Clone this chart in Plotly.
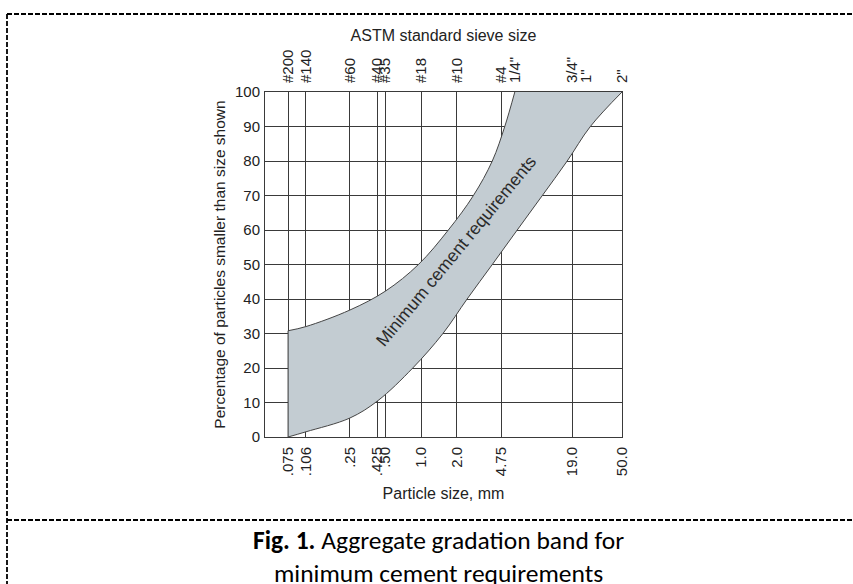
import plotly.graph_objects as go
import math

# ---------------- data ----------------
sieve_mm = [0.075, 0.106, 0.25, 0.425, 0.50, 1.0, 2.0, 4.75, 19.0, 50.0]
bottom_labels = [".075", ".106", ".25", ".425", ".50", "1.0", "2.0", "4.75", "19.0", "50.0"]

astm_mm = [0.075, 0.106, 0.25, 0.425, 0.50, 1.0, 2.0, 4.75, 6.3, 19.0, 25.0, 50.0]
astm_labels = ["#200", "#140", "#60", "#40", "#35", "#18", "#10", "#4", "1/4\"", "3/4\"", "1\"", "2\""]

# band boundaries (percent passing)
upper_mm = [0.075, 0.106, 0.25, 0.5, 0.95, 1.7, 2.77, 4.0, 5.1, 6.2]
upper_pct = [30.8, 32.0, 36.8, 42.3, 50.0, 60.0, 70.0, 80.0, 90.0, 100.0]
lower_mm = [0.075, 0.106, 0.25, 0.43, 0.85, 1.53, 2.45, 4.0, 6.5, 10.6, 17.2, 27.0, 50.0]
lower_pct = [0.0, 1.5, 5.5, 10.5, 20.0, 30.0, 40.0, 50.0, 60.0, 70.0, 80.0, 90.0, 100.0]

y_ticks = list(range(0, 101, 10))

# ---------------- layout constants ----------------
W, H = 853, 584
L, R, T, B = 265, 231, 92, 147
PW, PH = W - L - R, H - T - B
FONT = "Liberation Sans, Arial, Helvetica, sans-serif"
GRID = "#3a3a3a"
TXT = "#222222"
FILL = "#c3ccd2"
xrange_log = [-1.32, math.log10(50.0)]


def px(xp):
    return (xp - L) / PW


def py(yp):
    return (H - B - yp) / PH


fig = go.Figure()

# lower boundary
fig.add_trace(go.Scatter(
    x=lower_mm, y=lower_pct, mode="lines",
    line=dict(color="#454545", width=1, shape="spline", smoothing=1.0),
    hoverinfo="skip", showlegend=False,
))
# upper boundary, filled to lower
fig.add_trace(go.Scatter(
    x=upper_mm, y=upper_pct, mode="lines", fill="tonexty", fillcolor=FILL,
    line=dict(color="#454545", width=1, shape="spline", smoothing=1.0),
    hoverinfo="skip", showlegend=False,
))
# left edge of band (on the .075 line)
fig.add_trace(go.Scatter(
    x=[lower_mm[0], upper_mm[0]], y=[lower_pct[0], upper_pct[0]], mode="lines",
    line=dict(color=GRID, width=1), hoverinfo="skip", showlegend=False,
))
# dummy trace for top axis
fig.add_trace(go.Scatter(
    x=[astm_mm[0]], y=[0], xaxis="x2", mode="markers",
    marker=dict(opacity=0), hoverinfo="skip", showlegend=False,
))

fig.update_layout(
    width=W, height=H,
    margin=dict(l=L, r=R, t=T, b=B, autoexpand=False),
    paper_bgcolor="white", plot_bgcolor="white",
    font=dict(family=FONT, size=15, color=TXT),
    xaxis=dict(
        type="log", range=xrange_log,
        tickmode="array", tickvals=sieve_mm, ticktext=bottom_labels,
        tickangle=-90, ticks="outside", ticklen=3, tickcolor="rgba(0,0,0,0)",
        showgrid=True, gridcolor=GRID, gridwidth=1,
        showline=True, linecolor=GRID, linewidth=1, mirror=True,
        zeroline=False, automargin=False,
        tickfont=dict(size=15, color=TXT),
        title=dict(text="Particle size, mm", font=dict(size=16, color=TXT), standoff=12),
    ),
    xaxis2=dict(
        type="log", range=xrange_log, overlaying="x", side="top", anchor="y",
        tickmode="array", tickvals=astm_mm, ticktext=astm_labels,
        tickangle=-90, ticks="outside", ticklen=5, tickcolor="rgba(0,0,0,0)",
        showgrid=False, showline=False, zeroline=False, automargin=False,
        tickfont=dict(size=15, color=TXT),
        title=dict(text="ASTM standard sieve size", font=dict(size=16, color=TXT), standoff=4),
    ),
    yaxis=dict(
        range=[0, 100], tickmode="array", tickvals=y_ticks,
        ticks="outside", ticklen=1, tickcolor="rgba(0,0,0,0)",
        showgrid=True, gridcolor=GRID, gridwidth=1,
        showline=True, linecolor=GRID, linewidth=1, mirror=True,
        zeroline=False, automargin=False,
        tickfont=dict(size=15, color=TXT),
        title=dict(text="Percentage of particles smaller than size shown",
                   font=dict(size=15.5, color=TXT), standoff=5),
    ),
)

# band label
fig.add_annotation(
    x=px(456), y=py(251), xref="paper", yref="paper", xanchor="center", yanchor="middle",
    text="Minimum cement requirements", showarrow=False, textangle=-50.5,
    font=dict(family=FONT, size=17.5, color="#2a2a2a"),
)

# caption (one text block, two lines)
CAP_FONT = "Carlito, Calibri, Lato, sans-serif"
fig.add_annotation(
    x=px(438), y=py(523), xref="paper", yref="paper", showarrow=False,
    xanchor="center", yanchor="top", align="center",
    text="<b>Fig. 1.</b> Aggregate gradation band for<br>minimum cement requirements",
    font=dict(family=CAP_FONT, size=25.5, color="black"),
)

# dashed frame lines
dash = dict(color="black", width=1.8, dash="5px,2px")
fig.add_shape(type="line", xref="paper", yref="paper",
              x0=px(7), x1=px(853), y0=py(14), y1=py(14), line=dash)
fig.add_shape(type="line", xref="paper", yref="paper",
              x0=px(7), x1=px(7), y0=py(14), y1=py(584), line=dash)
fig.add_shape(type="line", xref="paper", yref="paper",
              x0=px(7), x1=px(853), y0=py(520), y1=py(520), line=dash)

fig.write_html("out.html", config={"displayModeBar": False},
               post_script="document.body.style.margin='0';")
